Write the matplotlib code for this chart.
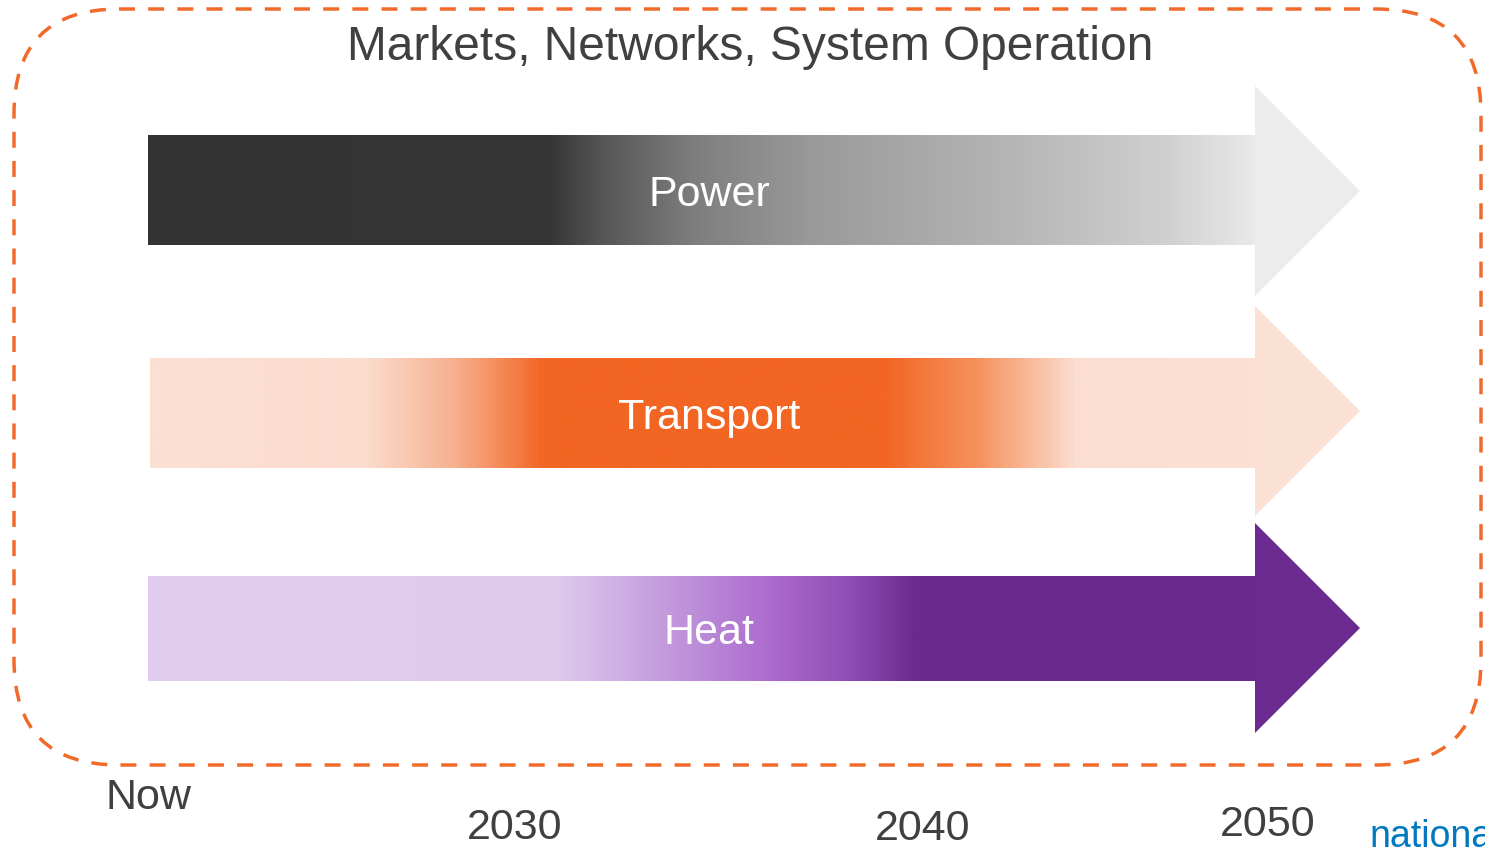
import matplotlib.pyplot as plt
import numpy as np
from matplotlib.colors import LinearSegmentedColormap
from matplotlib.patches import FancyBboxPatch, Polygon

plt.rcParams['font.family'] = ['Liberation Sans', 'DejaVu Sans']

TITLE = "Markets, Networks, System Operation"
SECTORS = ["Power", "Transport", "Heat"]
TIMELINE = ["Now", "2030", "2040", "2050"]

# colour stops along each arrow: (x position in px, colour)
POWER_STOPS = [(148, "#333333"), (548, "#353535"), (600, "#555555"), (693, "#7e7e7e"),
               (812, "#9a9a9a"), (1010, "#b5b5b5"), (1168, "#d0d0d0"), (1255, "#e9e9e9")]
TRANSPORT_STOPS = [(150, "#fbe0d4"), (365, "#fbdccd"), (456, "#f7ae8c"), (543, "#f26522"),
                   (883, "#f26522"), (980, "#f6935f"), (1077, "#fbded1"), (1255, "#fbe0d4")]
HEAT_STOPS = [(148, "#e1cdef"), (555, "#dfcaee"), (693, "#bc8ed8"), (780, "#aa66cc"),
              (851, "#8e4db5"), (915, "#6a2a8f"), (1255, "#6a2a8f")]
HEAD_COLORS = ["#ececec", "#fbe0d4", "#6a2a8f"]

# layout (pixels)
BODY_Y = [(136, 245), (359, 468), (576, 681)]
BODY_X0 = [148, 150, 148]
HEAD_Y = [(86, 296), (306, 516), (523, 733)]
BODY_X1, TIP_X = 1255, 1360
LABEL_POS = [(148, 798), (515, 828), (923, 829), (1268, 825)]

fig = plt.figure(figsize=(14.85, 8.55), dpi=100)
ax = fig.add_axes([0, 0, 1, 1])
ax.set_xlim(0, 1485)
ax.set_ylim(855, 0)
ax.axis("off")

# dashed rounded frame
frame = FancyBboxPatch((14, 9), 1467, 756, boxstyle="round,pad=0,rounding_size=105",
                       fill=False, edgecolor="#f26a2a", linewidth=2.5,
                       linestyle=(0, (4.6, 3.8)))
ax.add_patch(frame)

ax.text(750, 48, TITLE, ha="center", va="center", fontsize=34.5, color="#404040")

for name, stops, x0, (y0, y1), (h0, h1), hc in zip(
        SECTORS, [POWER_STOPS, TRANSPORT_STOPS, HEAT_STOPS], BODY_X0, BODY_Y, HEAD_Y,
        HEAD_COLORS):
    span = BODY_X1 - x0
    cmap = LinearSegmentedColormap.from_list(
        name, [((x - x0) / span, c) for x, c in stops])
    grad = np.linspace(0, 1, 800).reshape(1, -1)
    ax.imshow(grad, cmap=cmap, extent=(x0, BODY_X1 + 2, y1, y0),
              aspect="auto", interpolation="bilinear", zorder=2)
    head = Polygon([(BODY_X1, h0), (TIP_X, (h0 + h1) / 2), (BODY_X1, h1)],
                   closed=True, facecolor=hc, edgecolor="none", zorder=3)
    ax.add_patch(head)
    ax.text(709, (y0 + y1) / 2 + 4, name, ha="center", va="center",
            fontsize=31, color="white", zorder=4)

for lab, (x, y) in zip(TIMELINE, LABEL_POS):
    ax.text(x, y, lab, ha="center", va="center", fontsize=31, color="#404040")

# logo text, cut off by the right edge as in the original slide
ax.text(1369, 837, "national", ha="left", va="center", fontsize=27, color="#0079c1",
        clip_on=True)

fig.savefig("out.png", dpi=100)
